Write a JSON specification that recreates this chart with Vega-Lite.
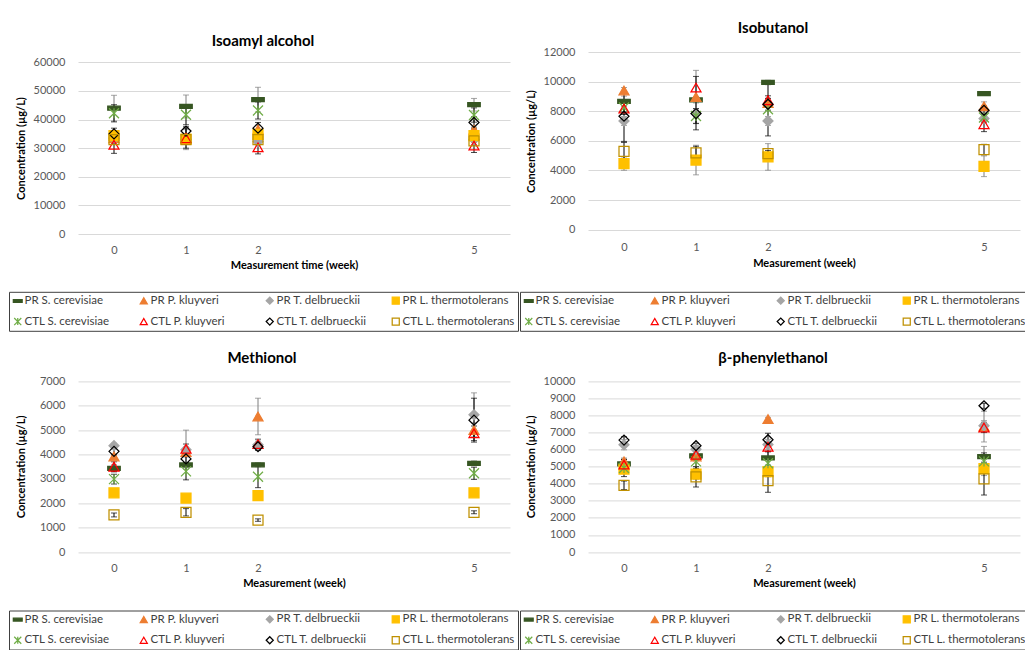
{
  "$schema": "https://vega.github.io/schema/vega-lite/v6.json",
  "padding": {"left": 8, "top": 20, "right": 0, "bottom": 0},
  "background": "white",
  "datasets": {
    "isoamyl": [
      {"week": 0, "series": "PR S. cerevisiae", "value": 44000, "err": 4500},
      {"week": 0, "series": "PR P. kluyveri", "value": 33500, "err": 1500},
      {"week": 0, "series": "PR T. delbrueckii", "value": 33500, "err": 1200},
      {"week": 0, "series": "PR L. thermotolerans", "value": 34400, "err": 1000},
      {"week": 0, "series": "CTL S. cerevisiae", "value": 42200, "err": 3000},
      {"week": 0, "series": "CTL P. kluyveri", "value": 31200, "err": 3000},
      {"week": 0, "series": "CTL T. delbrueckii", "value": 35000, "err": 2000},
      {"week": 0, "series": "CTL L. thermotolerans", "value": 33000, "err": 1500},
      {"week": 1, "series": "PR S. cerevisiae", "value": 44600, "err": 4000},
      {"week": 1, "series": "PR P. kluyveri", "value": 33500, "err": 1500},
      {"week": 1, "series": "PR T. delbrueckii", "value": 33000, "err": 3500},
      {"week": 1, "series": "PR L. thermotolerans", "value": 33200, "err": 1000},
      {"week": 1, "series": "CTL S. cerevisiae", "value": 41700, "err": 3500},
      {"week": 1, "series": "CTL P. kluyveri", "value": 33500, "err": 3500},
      {"week": 1, "series": "CTL T. delbrueckii", "value": 36000, "err": 1500},
      {"week": 1, "series": "CTL L. thermotolerans", "value": 33000, "err": 1000},
      {"week": 2, "series": "PR S. cerevisiae", "value": 47000, "err": 4300},
      {"week": 2, "series": "PR P. kluyveri", "value": 36500, "err": 1500},
      {"week": 2, "series": "PR T. delbrueckii", "value": 32300, "err": 1500},
      {"week": 2, "series": "PR L. thermotolerans", "value": 34800, "err": 1500},
      {"week": 2, "series": "CTL S. cerevisiae", "value": 43200, "err": 3000},
      {"week": 2, "series": "CTL P. kluyveri", "value": 30300, "err": 2300},
      {"week": 2, "series": "CTL T. delbrueckii", "value": 37000, "err": 2000},
      {"week": 2, "series": "CTL L. thermotolerans", "value": 33000, "err": 1500},
      {"week": 5, "series": "PR S. cerevisiae", "value": 45200, "err": 2200},
      {"week": 5, "series": "PR P. kluyveri", "value": 36400, "err": 1000},
      {"week": 5, "series": "PR T. delbrueckii", "value": 33000, "err": 1000},
      {"week": 5, "series": "PR L. thermotolerans", "value": 34400, "err": 1500},
      {"week": 5, "series": "CTL S. cerevisiae", "value": 41600, "err": 2500},
      {"week": 5, "series": "CTL P. kluyveri", "value": 30900, "err": 2400},
      {"week": 5, "series": "CTL T. delbrueckii", "value": 39000, "err": 2000},
      {"week": 5, "series": "CTL L. thermotolerans", "value": 32600, "err": 1500}
    ],
    "isobutanol": [
      {"week": 0, "series": "PR S. cerevisiae", "value": 8670, "err": 350},
      {"week": 0, "series": "PR P. kluyveri", "value": 9400, "err": 200},
      {"week": 0, "series": "PR T. delbrueckii", "value": 7340, "err": 300},
      {"week": 0, "series": "PR L. thermotolerans", "value": 4460, "err": 450},
      {"week": 0, "series": "CTL S. cerevisiae", "value": 8250, "err": 300},
      {"week": 0, "series": "CTL P. kluyveri", "value": 8180, "err": 400},
      {"week": 0, "series": "CTL T. delbrueckii", "value": 7660, "err": 1700},
      {"week": 0, "series": "CTL L. thermotolerans", "value": 5290, "err": 600},
      {"week": 1, "series": "PR S. cerevisiae", "value": 8760, "err": 200},
      {"week": 1, "series": "PR P. kluyveri", "value": 8960, "err": 1800},
      {"week": 1, "series": "PR T. delbrueckii", "value": 7850, "err": 300},
      {"week": 1, "series": "PR L. thermotolerans", "value": 4700, "err": 1000},
      {"week": 1, "series": "CTL S. cerevisiae", "value": 7680, "err": 500},
      {"week": 1, "series": "CTL P. kluyveri", "value": 9600, "err": 750},
      {"week": 1, "series": "CTL T. delbrueckii", "value": 7840, "err": 1100},
      {"week": 1, "series": "CTL L. thermotolerans", "value": 5180, "err": 450},
      {"week": 2, "series": "PR S. cerevisiae", "value": 9940, "err": 150},
      {"week": 2, "series": "PR P. kluyveri", "value": 8550, "err": 300},
      {"week": 2, "series": "PR T. delbrueckii", "value": 7340, "err": 300},
      {"week": 2, "series": "PR L. thermotolerans", "value": 4910, "err": 900},
      {"week": 2, "series": "CTL S. cerevisiae", "value": 8130, "err": 1800},
      {"week": 2, "series": "CTL P. kluyveri", "value": 8740, "err": 300},
      {"week": 2, "series": "CTL T. delbrueckii", "value": 8470, "err": 400},
      {"week": 2, "series": "CTL L. thermotolerans", "value": 5140, "err": 200},
      {"week": 5, "series": "PR S. cerevisiae", "value": 9190, "err": 80},
      {"week": 5, "series": "PR P. kluyveri", "value": 8330, "err": 300},
      {"week": 5, "series": "PR T. delbrueckii", "value": 7500, "err": 300},
      {"week": 5, "series": "PR L. thermotolerans", "value": 4280, "err": 700},
      {"week": 5, "series": "CTL S. cerevisiae", "value": 7570, "err": 300},
      {"week": 5, "series": "CTL P. kluyveri", "value": 7120, "err": 500},
      {"week": 5, "series": "CTL T. delbrueckii", "value": 8060, "err": 300},
      {"week": 5, "series": "CTL L. thermotolerans", "value": 5410, "err": 350}
    ],
    "methionol": [
      {"week": 0, "series": "PR S. cerevisiae", "value": 3430, "err": 150},
      {"week": 0, "series": "PR P. kluyveri", "value": 3920, "err": 100},
      {"week": 0, "series": "PR T. delbrueckii", "value": 4360, "err": 100},
      {"week": 0, "series": "PR L. thermotolerans", "value": 2430, "err": 80},
      {"week": 0, "series": "CTL S. cerevisiae", "value": 2990, "err": 200},
      {"week": 0, "series": "CTL P. kluyveri", "value": 3500, "err": 200},
      {"week": 0, "series": "CTL T. delbrueckii", "value": 4130, "err": 150},
      {"week": 0, "series": "CTL L. thermotolerans", "value": 1520, "err": 80},
      {"week": 1, "series": "PR S. cerevisiae", "value": 3570, "err": 100},
      {"week": 1, "series": "PR P. kluyveri", "value": 4100, "err": 200},
      {"week": 1, "series": "PR T. delbrueckii", "value": 4200, "err": 800},
      {"week": 1, "series": "PR L. thermotolerans", "value": 2210, "err": 80},
      {"week": 1, "series": "CTL S. cerevisiae", "value": 3310, "err": 350},
      {"week": 1, "series": "CTL P. kluyveri", "value": 4230, "err": 200},
      {"week": 1, "series": "CTL T. delbrueckii", "value": 3820, "err": 300},
      {"week": 1, "series": "CTL L. thermotolerans", "value": 1630, "err": 150},
      {"week": 2, "series": "PR S. cerevisiae", "value": 3580, "err": 80},
      {"week": 2, "series": "PR P. kluyveri", "value": 5560, "err": 750},
      {"week": 2, "series": "PR T. delbrueckii", "value": 4400, "err": 150},
      {"week": 2, "series": "PR L. thermotolerans", "value": 2310, "err": 180},
      {"week": 2, "series": "CTL S. cerevisiae", "value": 3090, "err": 450},
      {"week": 2, "series": "CTL P. kluyveri", "value": 4430, "err": 200},
      {"week": 2, "series": "CTL T. delbrueckii", "value": 4320, "err": 150},
      {"week": 2, "series": "CTL L. thermotolerans", "value": 1310, "err": 50},
      {"week": 5, "series": "PR S. cerevisiae", "value": 3640, "err": 100},
      {"week": 5, "series": "PR P. kluyveri", "value": 5000, "err": 300},
      {"week": 5, "series": "PR T. delbrueckii", "value": 5630, "err": 900},
      {"week": 5, "series": "PR L. thermotolerans", "value": 2430, "err": 150},
      {"week": 5, "series": "CTL S. cerevisiae", "value": 3230, "err": 250},
      {"week": 5, "series": "CTL P. kluyveri", "value": 4870, "err": 300},
      {"week": 5, "series": "CTL T. delbrueckii", "value": 5410, "err": 900},
      {"week": 5, "series": "CTL L. thermotolerans", "value": 1630, "err": 60}
    ],
    "phenyl": [
      {"week": 0, "series": "PR S. cerevisiae", "value": 5160, "err": 300},
      {"week": 0, "series": "PR P. kluyveri", "value": 5310, "err": 200},
      {"week": 0, "series": "PR T. delbrueckii", "value": 6290, "err": 300},
      {"week": 0, "series": "PR L. thermotolerans", "value": 4860, "err": 200},
      {"week": 0, "series": "CTL S. cerevisiae", "value": 4920, "err": 500},
      {"week": 0, "series": "CTL P. kluyveri", "value": 5120, "err": 300},
      {"week": 0, "series": "CTL T. delbrueckii", "value": 6560, "err": 200},
      {"week": 0, "series": "CTL L. thermotolerans", "value": 3910, "err": 250},
      {"week": 1, "series": "PR S. cerevisiae", "value": 5640, "err": 300},
      {"week": 1, "series": "PR P. kluyveri", "value": 5600, "err": 200},
      {"week": 1, "series": "PR T. delbrueckii", "value": 6030, "err": 200},
      {"week": 1, "series": "PR L. thermotolerans", "value": 4570, "err": 300},
      {"week": 1, "series": "CTL S. cerevisiae", "value": 5310, "err": 400},
      {"week": 1, "series": "CTL P. kluyveri", "value": 5700, "err": 300},
      {"week": 1, "series": "CTL T. delbrueckii", "value": 6230, "err": 150},
      {"week": 1, "series": "CTL L. thermotolerans", "value": 4410, "err": 600},
      {"week": 2, "series": "PR S. cerevisiae", "value": 5510, "err": 400},
      {"week": 2, "series": "PR P. kluyveri", "value": 7790, "err": 100},
      {"week": 2, "series": "PR T. delbrueckii", "value": 6300, "err": 300},
      {"week": 2, "series": "PR L. thermotolerans", "value": 4710, "err": 300},
      {"week": 2, "series": "CTL S. cerevisiae", "value": 5200, "err": 700},
      {"week": 2, "series": "CTL P. kluyveri", "value": 6170, "err": 300},
      {"week": 2, "series": "CTL T. delbrueckii", "value": 6580, "err": 380},
      {"week": 2, "series": "CTL L. thermotolerans", "value": 4180, "err": 680},
      {"week": 5, "series": "PR S. cerevisiae", "value": 5590, "err": 600},
      {"week": 5, "series": "PR P. kluyveri", "value": 7350, "err": 900},
      {"week": 5, "series": "PR T. delbrueckii", "value": 7400, "err": 300},
      {"week": 5, "series": "PR L. thermotolerans", "value": 4880, "err": 400},
      {"week": 5, "series": "CTL S. cerevisiae", "value": 5310, "err": 500},
      {"week": 5, "series": "CTL P. kluyveri", "value": 7300, "err": 300},
      {"week": 5, "series": "CTL T. delbrueckii", "value": 8570, "err": 150},
      {"week": 5, "series": "CTL L. thermotolerans", "value": 4280, "err": 940}
    ]
  },
  "columns": 2,
  "bounds": "flush",
  "spacing": {"row": 147.4, "column": 78},
  "concat": [
    {
      "width": 432, "height": 182,
      "data": {"name": "isoamyl"},
      "title": {"text": "Isoamyl alcohol", "offset": 3.4, "dx": -31},
      "encoding": {
        "x": {"field": "week", "type": "quantitative", "scale": {"domain": [-0.5, 5.5], "nice": false, "zero": false}, "axis": {"values": [0, 1, 2, 5], "format": "d", "title": "Measurement time (week)", "labelPadding": 10, "titlePadding": 4}},
        "y": {"field": "value", "type": "quantitative", "scale": {"domain": [0, 63636], "nice": false, "zero": false}, "axis": {"values": [0, 10000, 20000, 30000, 40000, 50000, 60000], "format": "d", "title": "Concentration (µg/L)", "titleX": -52, "titleY": 96}}
      },
      "layer": [
        {"transform": [{"filter": "indexof(datum.series,'PR')===0"}], "mark": {"type": "errorbar", "ticks": true, "size": 6, "thickness": 1, "color": "#7F7F7F"}, "encoding": {"yError": {"field": "err"}}},
        {"transform": [{"filter": "indexof(datum.series,'CTL')===0"}], "mark": {"type": "errorbar", "ticks": true, "size": 6, "thickness": 1, "color": "#000000"}, "encoding": {"yError": {"field": "err"}}},
        {"mark": {"type": "point", "size": 100, "strokeWidth": 1.25, "opacity": 1},
         "encoding": {
           "shape": {"field": "series", "type": "nominal", "scale": {"domain": ["PR S. cerevisiae", "PR P. kluyveri", "PR T. delbrueckii", "PR L. thermotolerans", "CTL S. cerevisiae", "CTL P. kluyveri", "CTL T. delbrueckii", "CTL L. thermotolerans"], "range": ["M-1.25,-0.4H1.25V0.4H-1.25Z", "triangle-up", "diamond", "square", "M-1,-1L1,1M1,-1L-1,1M0,-1L0,1", "triangle-up", "diamond", "square"]}, "legend": {"title": null, "orient": "none", "legendX": -69, "legendY": 239.8, "direction": "horizontal", "columns": 4}},
           "fill": {"field": "series", "type": "nominal", "scale": {"domain": ["PR S. cerevisiae", "PR P. kluyveri", "PR T. delbrueckii", "PR L. thermotolerans", "CTL S. cerevisiae", "CTL P. kluyveri", "CTL T. delbrueckii", "CTL L. thermotolerans"], "range": ["#375623", "#ED7D31", "#A5A5A5", "#FFC000", "transparent", "transparent", "transparent", "transparent"]}, "legend": {"title": null, "orient": "none", "legendX": -69, "legendY": 239.8, "direction": "horizontal", "columns": 4}},
           "stroke": {"field": "series", "type": "nominal", "scale": {"domain": ["PR S. cerevisiae", "PR P. kluyveri", "PR T. delbrueckii", "PR L. thermotolerans", "CTL S. cerevisiae", "CTL P. kluyveri", "CTL T. delbrueckii", "CTL L. thermotolerans"], "range": ["#375623", "#ED7D31", "#A5A5A5", "#FFC000", "#70AD47", "#FF0000", "#000000", "#BF9000"]}, "legend": {"title": null, "orient": "none", "legendX": -69, "legendY": 239.8, "direction": "horizontal", "columns": 4}}
         }}
      ]
    },
    {
      "width": 432, "height": 182,
      "data": {"name": "isobutanol"},
      "title": {"text": "Isobutanol", "offset": 10.4, "dx": -31},
      "encoding": {
        "x": {"field": "week", "type": "quantitative", "scale": {"domain": [-0.5, 5.5], "nice": false, "zero": false}, "axis": {"values": [0, 1, 2, 5], "format": "d", "title": "Measurement (week)", "labelPadding": 7, "titlePadding": 5}},
        "y": {"field": "value", "type": "quantitative", "scale": {"domain": [-297, 12000], "nice": false, "zero": false}, "axis": {"values": [0, 2000, 4000, 6000, 8000, 10000, 12000], "format": "d", "title": "Concentration (µg/L)", "titleX": -52, "titleY": 89}}
      },
      "layer": [
        {"transform": [{"filter": "indexof(datum.series,'PR')===0"}], "mark": {"type": "errorbar", "ticks": true, "size": 6, "thickness": 1, "color": "#7F7F7F"}, "encoding": {"yError": {"field": "err"}}},
        {"transform": [{"filter": "indexof(datum.series,'CTL')===0"}], "mark": {"type": "errorbar", "ticks": true, "size": 6, "thickness": 1, "color": "#000000"}, "encoding": {"yError": {"field": "err"}}},
        {"mark": {"type": "point", "size": 100, "strokeWidth": 1.25, "opacity": 1},
         "encoding": {
           "shape": {"field": "series", "type": "nominal", "scale": {"domain": ["PR S. cerevisiae", "PR P. kluyveri", "PR T. delbrueckii", "PR L. thermotolerans", "CTL S. cerevisiae", "CTL P. kluyveri", "CTL T. delbrueckii", "CTL L. thermotolerans"], "range": ["M-1.25,-0.4H1.25V0.4H-1.25Z", "triangle-up", "diamond", "square", "M-1,-1L1,1M1,-1L-1,1M0,-1L0,1", "triangle-up", "diamond", "square"]}, "legend": {"title": null, "orient": "none", "legendX": -68, "legendY": 239.8, "direction": "horizontal", "columns": 4}},
           "fill": {"field": "series", "type": "nominal", "scale": {"domain": ["PR S. cerevisiae", "PR P. kluyveri", "PR T. delbrueckii", "PR L. thermotolerans", "CTL S. cerevisiae", "CTL P. kluyveri", "CTL T. delbrueckii", "CTL L. thermotolerans"], "range": ["#375623", "#ED7D31", "#A5A5A5", "#FFC000", "transparent", "transparent", "transparent", "transparent"]}, "legend": {"title": null, "orient": "none", "legendX": -68, "legendY": 239.8, "direction": "horizontal", "columns": 4}},
           "stroke": {"field": "series", "type": "nominal", "scale": {"domain": ["PR S. cerevisiae", "PR P. kluyveri", "PR T. delbrueckii", "PR L. thermotolerans", "CTL S. cerevisiae", "CTL P. kluyveri", "CTL T. delbrueckii", "CTL L. thermotolerans"], "range": ["#375623", "#ED7D31", "#A5A5A5", "#FFC000", "#70AD47", "#FF0000", "#000000", "#BF9000"]}, "legend": {"title": null, "orient": "none", "legendX": -68, "legendY": 239.8, "direction": "horizontal", "columns": 4}}
         }}
      ]
    },
    {
      "width": 432, "height": 170.6,
      "data": {"name": "methionol"},
      "title": {"text": "Methionol", "offset": 9.4, "dx": -32},
      "encoding": {
        "x": {"field": "week", "type": "quantitative", "scale": {"domain": [-0.5, 5.5], "nice": false, "zero": false}, "axis": {"values": [0, 1, 2, 5], "format": "d", "title": "Measurement (week)", "labelPadding": 10, "titlePadding": 4}},
        "y": {"field": "value", "type": "quantitative", "scale": {"domain": [0, 7000], "nice": false, "zero": false}, "axis": {"values": [0, 1000, 2000, 3000, 4000, 5000, 6000, 7000], "format": "d", "title": "Concentration (µg/L)", "titleX": -52, "titleY": 85}}
      },
      "layer": [
        {"transform": [{"filter": "indexof(datum.series,'PR')===0"}], "mark": {"type": "errorbar", "ticks": true, "size": 6, "thickness": 1, "color": "#7F7F7F"}, "encoding": {"yError": {"field": "err"}}},
        {"transform": [{"filter": "indexof(datum.series,'CTL')===0"}], "mark": {"type": "errorbar", "ticks": true, "size": 6, "thickness": 1, "color": "#000000"}, "encoding": {"yError": {"field": "err"}}},
        {"mark": {"type": "point", "size": 100, "strokeWidth": 1.25, "opacity": 1},
         "encoding": {
           "shape": {"field": "series", "type": "nominal", "scale": {"domain": ["PR S. cerevisiae", "PR P. kluyveri", "PR T. delbrueckii", "PR L. thermotolerans", "CTL S. cerevisiae", "CTL P. kluyveri", "CTL T. delbrueckii", "CTL L. thermotolerans"], "range": ["M-1.25,-0.4H1.25V0.4H-1.25Z", "triangle-up", "diamond", "square", "M-1,-1L1,1M1,-1L-1,1M0,-1L0,1", "triangle-up", "diamond", "square"]}, "legend": {"title": null, "orient": "none", "legendX": -69, "legendY": 229.1, "direction": "horizontal", "columns": 4}},
           "fill": {"field": "series", "type": "nominal", "scale": {"domain": ["PR S. cerevisiae", "PR P. kluyveri", "PR T. delbrueckii", "PR L. thermotolerans", "CTL S. cerevisiae", "CTL P. kluyveri", "CTL T. delbrueckii", "CTL L. thermotolerans"], "range": ["#375623", "#ED7D31", "#A5A5A5", "#FFC000", "transparent", "transparent", "transparent", "transparent"]}, "legend": {"title": null, "orient": "none", "legendX": -69, "legendY": 229.1, "direction": "horizontal", "columns": 4}},
           "stroke": {"field": "series", "type": "nominal", "scale": {"domain": ["PR S. cerevisiae", "PR P. kluyveri", "PR T. delbrueckii", "PR L. thermotolerans", "CTL S. cerevisiae", "CTL P. kluyveri", "CTL T. delbrueckii", "CTL L. thermotolerans"], "range": ["#375623", "#ED7D31", "#A5A5A5", "#FFC000", "#70AD47", "#FF0000", "#000000", "#BF9000"]}, "legend": {"title": null, "orient": "none", "legendX": -69, "legendY": 229.1, "direction": "horizontal", "columns": 4}}
         }}
      ]
    },
    {
      "width": 432, "height": 170.6,
      "data": {"name": "phenyl"},
      "title": {"text": "β-phenylethanol", "offset": 9.4, "dx": -31},
      "encoding": {
        "x": {"field": "week", "type": "quantitative", "scale": {"domain": [-0.5, 5.5], "nice": false, "zero": false}, "axis": {"values": [0, 1, 2, 5], "format": "d", "title": "Measurement (week)", "labelPadding": 10, "titlePadding": 4}},
        "y": {"field": "value", "type": "quantitative", "scale": {"domain": [0, 10000], "nice": false, "zero": false}, "axis": {"values": [0, 1000, 2000, 3000, 4000, 5000, 6000, 7000, 8000, 9000, 10000], "format": "d", "title": "Concentration (µg/L)", "titleX": -52, "titleY": 85}}
      },
      "layer": [
        {"transform": [{"filter": "indexof(datum.series,'PR')===0"}], "mark": {"type": "errorbar", "ticks": true, "size": 6, "thickness": 1, "color": "#7F7F7F"}, "encoding": {"yError": {"field": "err"}}},
        {"transform": [{"filter": "indexof(datum.series,'CTL')===0"}], "mark": {"type": "errorbar", "ticks": true, "size": 6, "thickness": 1, "color": "#000000"}, "encoding": {"yError": {"field": "err"}}},
        {"mark": {"type": "point", "size": 100, "strokeWidth": 1.25, "opacity": 1},
         "encoding": {
           "shape": {"field": "series", "type": "nominal", "scale": {"domain": ["PR S. cerevisiae", "PR P. kluyveri", "PR T. delbrueckii", "PR L. thermotolerans", "CTL S. cerevisiae", "CTL P. kluyveri", "CTL T. delbrueckii", "CTL L. thermotolerans"], "range": ["M-1.25,-0.4H1.25V0.4H-1.25Z", "triangle-up", "diamond", "square", "M-1,-1L1,1M1,-1L-1,1M0,-1L0,1", "triangle-up", "diamond", "square"]}, "legend": {"title": null, "orient": "none", "legendX": -68, "legendY": 229.1, "direction": "horizontal", "columns": 4}},
           "fill": {"field": "series", "type": "nominal", "scale": {"domain": ["PR S. cerevisiae", "PR P. kluyveri", "PR T. delbrueckii", "PR L. thermotolerans", "CTL S. cerevisiae", "CTL P. kluyveri", "CTL T. delbrueckii", "CTL L. thermotolerans"], "range": ["#375623", "#ED7D31", "#A5A5A5", "#FFC000", "transparent", "transparent", "transparent", "transparent"]}, "legend": {"title": null, "orient": "none", "legendX": -68, "legendY": 229.1, "direction": "horizontal", "columns": 4}},
           "stroke": {"field": "series", "type": "nominal", "scale": {"domain": ["PR S. cerevisiae", "PR P. kluyveri", "PR T. delbrueckii", "PR L. thermotolerans", "CTL S. cerevisiae", "CTL P. kluyveri", "CTL T. delbrueckii", "CTL L. thermotolerans"], "range": ["#375623", "#ED7D31", "#A5A5A5", "#FFC000", "#70AD47", "#FF0000", "#000000", "#BF9000"]}, "legend": {"title": null, "orient": "none", "legendX": -68, "legendY": 229.1, "direction": "horizontal", "columns": 4}}
         }}
      ]
    }
  ],
  "resolve": {"scale": {"x": "independent", "y": "independent", "shape": "independent", "fill": "independent", "stroke": "independent"}},
  "config": {
    "view": {"stroke": null},
    "font": "Lato",
    "title": {"font": "Lato", "fontSize": 15, "fontWeight": "bold", "color": "#000000", "anchor": "middle", "baseline": "alphabetic"},
    "axis": {"labelFont": "Lato", "labelFontSize": 11, "labelColor": "#595959", "titleFont": "Lato", "titleFontSize": 11, "titleFontWeight": "bold", "titleColor": "#000000", "domain": false, "ticks": false, "gridColor": "#D9D9D9", "gridWidth": 1},
    "axisX": {"grid": false},
    "axisY": {"grid": true, "labelPadding": 13},
    "legend": {"labelFont": "Lato", "labelFontSize": 11.5, "labelColor": "#404040", "symbolSize": 50, "symbolStrokeWidth": 1.25, "strokeColor": "#404040", "padding": 3, "rowPadding": 8, "columnPadding": 0, "gridAlign": "all", "labelOffset": 1, "labelLimit": 300}
  }
}
